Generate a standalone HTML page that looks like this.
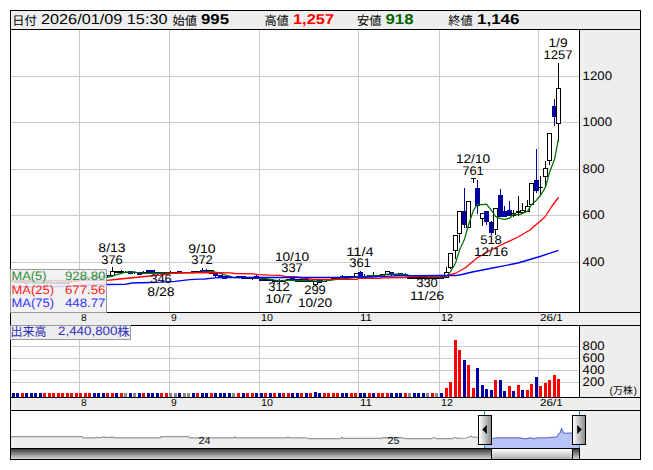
<!DOCTYPE html>
<html lang="ja"><head><meta charset="utf-8"><title>Stock chart</title>
<style>html,body{margin:0;padding:0;background:#fff}body{width:653px;height:470px;overflow:hidden;font-family:"Liberation Sans",sans-serif}svg{display:block}svg text{font-family:"Liberation Sans","Noto Sans CJK JP",sans-serif}</style></head>
<body>
<svg width="653" height="470" viewBox="0 0 653 470" font-family="'Liberation Sans', 'Noto Sans CJK JP', sans-serif" shape-rendering="crispEdges" text-rendering="geometricPrecision">
<rect x="0" y="0" width="653" height="470" fill="#fff"/>
<rect x="11" y="11" width="629" height="18" fill="#eeeeee"/>
<rect x="580" y="30" width="60" height="282" fill="#eeeeee"/>
<rect x="580" y="326" width="60" height="71" fill="#eeeeee"/>
<rect x="11" y="313" width="629" height="12" fill="#eeeeee"/>
<rect x="11" y="398" width="629" height="12" fill="#eeeeee"/>
<rect x="580" y="411" width="60" height="48" fill="#eeeeee"/>
<rect x="79" y="30" width="1" height="282" fill="#cbcbcb"/>
<rect x="79" y="326" width="1" height="71" fill="#cbcbcb"/>
<rect x="169" y="30" width="1" height="282" fill="#cbcbcb"/>
<rect x="169" y="326" width="1" height="71" fill="#cbcbcb"/>
<rect x="259" y="30" width="1" height="282" fill="#cbcbcb"/>
<rect x="259" y="326" width="1" height="71" fill="#cbcbcb"/>
<rect x="358" y="30" width="1" height="282" fill="#cbcbcb"/>
<rect x="358" y="326" width="1" height="71" fill="#cbcbcb"/>
<rect x="439" y="30" width="1" height="282" fill="#cbcbcb"/>
<rect x="439" y="326" width="1" height="71" fill="#cbcbcb"/>
<rect x="538" y="30" width="1" height="282" fill="#cbcbcb"/>
<rect x="538" y="326" width="1" height="71" fill="#cbcbcb"/>
<rect x="11" y="76" width="568" height="1" fill="#cbcbcb"/>
<rect x="11" y="122" width="568" height="1" fill="#cbcbcb"/>
<rect x="11" y="169" width="568" height="1" fill="#cbcbcb"/>
<rect x="11" y="215" width="568" height="1" fill="#cbcbcb"/>
<rect x="11" y="262" width="568" height="1" fill="#cbcbcb"/>
<rect x="11" y="346" width="568" height="1" fill="#cbcbcb"/>
<rect x="11" y="358" width="568" height="1" fill="#cbcbcb"/>
<rect x="11" y="370" width="568" height="1" fill="#cbcbcb"/>
<rect x="11" y="382" width="568" height="1" fill="#cbcbcb"/>
<g id="candles">
<rect x="13" y="279" width="1" height="4" fill="#0000a0"/>
<rect x="11" y="280" width="5" height="2" fill="#0000a0"/>
<rect x="17" y="281" width="1" height="3" fill="#0000a0"/>
<rect x="15" y="281" width="5" height="2" fill="#0000a0"/>
<rect x="20" y="281" width="5" height="2" fill="#000"/>
<rect x="26" y="281" width="1" height="3" fill="#0000a0"/>
<rect x="24" y="281" width="5" height="3" fill="#0000a0"/>
<rect x="31" y="281" width="1" height="2" fill="#0000a0"/>
<rect x="29" y="281" width="5" height="2" fill="#0000a0"/>
<rect x="35" y="281" width="1" height="3" fill="#0000a0"/>
<rect x="33" y="281" width="5" height="3" fill="#0000a0"/>
<rect x="40" y="282" width="1" height="2" fill="#0000a0"/>
<rect x="38" y="282" width="5" height="2" fill="#0000a0"/>
<rect x="42" y="282" width="5" height="2" fill="#000"/>
<rect x="47" y="281" width="5" height="3" fill="#000"/>
<rect x="48" y="282" width="3" height="1" fill="#fff"/>
<rect x="51" y="282" width="5" height="2" fill="#000"/>
<rect x="58" y="281" width="1" height="1" fill="#000"/>
<rect x="56" y="282" width="5" height="2" fill="#000"/>
<rect x="60" y="282" width="5" height="2" fill="#000"/>
<rect x="65" y="282" width="5" height="2" fill="#000"/>
<rect x="71" y="282" width="1" height="1" fill="#000"/>
<rect x="69" y="280" width="5" height="2" fill="#000"/>
<rect x="74" y="280" width="5" height="2" fill="#000"/>
<rect x="78" y="278" width="5" height="2" fill="#000"/>
<rect x="83" y="277" width="5" height="2" fill="#000"/>
<rect x="87" y="277" width="5" height="2" fill="#000"/>
<rect x="94" y="276" width="1" height="2" fill="#0000a0"/>
<rect x="92" y="276" width="5" height="2" fill="#0000a0"/>
<rect x="98" y="276" width="1" height="2" fill="#0000a0"/>
<rect x="96" y="276" width="5" height="2" fill="#0000a0"/>
<rect x="103" y="276" width="1" height="2" fill="#0000a0"/>
<rect x="101" y="276" width="5" height="2" fill="#0000a0"/>
<rect x="107" y="275" width="1" height="2" fill="#000"/>
<rect x="105" y="275" width="5" height="1" fill="#000"/>
<rect x="112" y="267" width="1" height="4" fill="#000"/>
<rect x="110" y="271" width="5" height="5" fill="#000"/>
<rect x="111" y="272" width="3" height="3" fill="#fff"/>
<rect x="114" y="271" width="5" height="2" fill="#000"/>
<rect x="121" y="270" width="1" height="1" fill="#000"/>
<rect x="119" y="271" width="5" height="2" fill="#000"/>
<rect x="125" y="271" width="1" height="2" fill="#000"/>
<rect x="123" y="272" width="5" height="1" fill="#000"/>
<rect x="130" y="271" width="1" height="3" fill="#0000a0"/>
<rect x="128" y="271" width="5" height="3" fill="#0000a0"/>
<rect x="134" y="271" width="1" height="3" fill="#000"/>
<rect x="132" y="272" width="5" height="1" fill="#000"/>
<rect x="139" y="272" width="1" height="3" fill="#0000a0"/>
<rect x="137" y="272" width="5" height="3" fill="#0000a0"/>
<rect x="143" y="271" width="1" height="1" fill="#000"/>
<rect x="141" y="272" width="5" height="2" fill="#000"/>
<rect x="148" y="270" width="1" height="4" fill="#0000a0"/>
<rect x="146" y="270" width="5" height="3" fill="#0000a0"/>
<rect x="152" y="270" width="1" height="3" fill="#0000a0"/>
<rect x="150" y="270" width="5" height="3" fill="#0000a0"/>
<rect x="157" y="272" width="1" height="3" fill="#0000a0"/>
<rect x="155" y="272" width="5" height="2" fill="#0000a0"/>
<rect x="161" y="272" width="1" height="3" fill="#0000a0"/>
<rect x="159" y="272" width="5" height="2" fill="#0000a0"/>
<rect x="166" y="274" width="1" height="1" fill="#000"/>
<rect x="164" y="272" width="5" height="2" fill="#000"/>
<rect x="170" y="271" width="1" height="2" fill="#000"/>
<rect x="168" y="272" width="5" height="1" fill="#000"/>
<rect x="175" y="272" width="1" height="1" fill="#000"/>
<rect x="173" y="272" width="5" height="1" fill="#000"/>
<rect x="179" y="271" width="1" height="2" fill="#0000a0"/>
<rect x="177" y="271" width="5" height="2" fill="#0000a0"/>
<rect x="184" y="272" width="1" height="1" fill="#000"/>
<rect x="182" y="272" width="5" height="1" fill="#000"/>
<rect x="188" y="272" width="1" height="1" fill="#000"/>
<rect x="186" y="272" width="5" height="1" fill="#000"/>
<rect x="193" y="271" width="1" height="2" fill="#0000a0"/>
<rect x="191" y="271" width="5" height="2" fill="#0000a0"/>
<rect x="195" y="271" width="5" height="2" fill="#000"/>
<rect x="202" y="268" width="1" height="5" fill="#0000a0"/>
<rect x="200" y="270" width="5" height="2" fill="#0000a0"/>
<rect x="206" y="269" width="1" height="3" fill="#0000a0"/>
<rect x="204" y="270" width="5" height="2" fill="#0000a0"/>
<rect x="209" y="270" width="5" height="4" fill="#000"/>
<rect x="210" y="271" width="3" height="2" fill="#fff"/>
<rect x="215" y="273" width="1" height="5" fill="#0000a0"/>
<rect x="213" y="273" width="5" height="3" fill="#0000a0"/>
<rect x="220" y="275" width="1" height="2" fill="#0000a0"/>
<rect x="218" y="275" width="5" height="2" fill="#0000a0"/>
<rect x="224" y="276" width="1" height="3" fill="#0000a0"/>
<rect x="222" y="276" width="5" height="3" fill="#0000a0"/>
<rect x="229" y="276" width="1" height="2" fill="#0000a0"/>
<rect x="227" y="276" width="5" height="2" fill="#0000a0"/>
<rect x="233" y="277" width="1" height="1" fill="#000"/>
<rect x="231" y="277" width="5" height="1" fill="#000"/>
<rect x="236" y="276" width="5" height="2" fill="#000"/>
<rect x="243" y="276" width="1" height="3" fill="#0000a0"/>
<rect x="241" y="276" width="5" height="3" fill="#0000a0"/>
<rect x="245" y="277" width="5" height="2" fill="#000"/>
<rect x="252" y="279" width="1" height="1" fill="#000"/>
<rect x="250" y="277" width="5" height="2" fill="#000"/>
<rect x="256" y="275" width="1" height="4" fill="#0000a0"/>
<rect x="254" y="276" width="5" height="3" fill="#0000a0"/>
<rect x="261" y="279" width="1" height="2" fill="#0000a0"/>
<rect x="259" y="279" width="5" height="2" fill="#0000a0"/>
<rect x="263" y="279" width="5" height="2" fill="#000"/>
<rect x="270" y="279" width="1" height="2" fill="#0000a0"/>
<rect x="268" y="279" width="5" height="2" fill="#0000a0"/>
<rect x="274" y="282" width="1" height="1" fill="#000"/>
<rect x="272" y="280" width="5" height="2" fill="#000"/>
<rect x="279" y="279" width="1" height="4" fill="#0000a0"/>
<rect x="277" y="280" width="5" height="2" fill="#0000a0"/>
<rect x="281" y="280" width="5" height="2" fill="#000"/>
<rect x="286" y="279" width="5" height="2" fill="#000"/>
<rect x="292" y="276" width="1" height="5" fill="#0000a0"/>
<rect x="290" y="278" width="5" height="3" fill="#0000a0"/>
<rect x="297" y="279" width="1" height="3" fill="#0000a0"/>
<rect x="295" y="279" width="5" height="3" fill="#0000a0"/>
<rect x="301" y="278" width="1" height="1" fill="#000"/>
<rect x="299" y="279" width="5" height="3" fill="#000"/>
<rect x="300" y="280" width="3" height="1" fill="#fff"/>
<rect x="306" y="279" width="1" height="3" fill="#0000a0"/>
<rect x="304" y="279" width="5" height="3" fill="#0000a0"/>
<rect x="310" y="279" width="1" height="1" fill="#000"/>
<rect x="308" y="280" width="5" height="2" fill="#000"/>
<rect x="315" y="285" width="1" height="1" fill="#000"/>
<rect x="313" y="281" width="5" height="4" fill="#000"/>
<rect x="314" y="282" width="3" height="2" fill="#fff"/>
<rect x="319" y="280" width="1" height="3" fill="#0000a0"/>
<rect x="317" y="280" width="5" height="3" fill="#0000a0"/>
<rect x="322" y="279" width="5" height="3" fill="#000"/>
<rect x="323" y="280" width="3" height="1" fill="#fff"/>
<rect x="326" y="279" width="5" height="2" fill="#000"/>
<rect x="331" y="278" width="5" height="2" fill="#000"/>
<rect x="335" y="277" width="5" height="2" fill="#000"/>
<rect x="342" y="275" width="1" height="4" fill="#0000a0"/>
<rect x="340" y="276" width="5" height="3" fill="#0000a0"/>
<rect x="346" y="276" width="1" height="3" fill="#0000a0"/>
<rect x="344" y="276" width="5" height="3" fill="#0000a0"/>
<rect x="349" y="276" width="5" height="2" fill="#000"/>
<rect x="354" y="273" width="5" height="4" fill="#000"/>
<rect x="355" y="274" width="3" height="2" fill="#fff"/>
<rect x="360" y="271" width="1" height="6" fill="#0000a0"/>
<rect x="358" y="272" width="5" height="5" fill="#0000a0"/>
<rect x="364" y="274" width="1" height="4" fill="#0000a0"/>
<rect x="362" y="276" width="5" height="2" fill="#0000a0"/>
<rect x="367" y="275" width="5" height="2" fill="#000"/>
<rect x="373" y="272" width="1" height="3" fill="#000"/>
<rect x="371" y="275" width="5" height="2" fill="#000"/>
<rect x="376" y="275" width="5" height="2" fill="#000"/>
<rect x="382" y="277" width="1" height="1" fill="#000"/>
<rect x="380" y="274" width="5" height="3" fill="#000"/>
<rect x="381" y="275" width="3" height="1" fill="#fff"/>
<rect x="385" y="271" width="5" height="4" fill="#000"/>
<rect x="386" y="272" width="3" height="2" fill="#fff"/>
<rect x="391" y="272" width="1" height="4" fill="#0000a0"/>
<rect x="389" y="272" width="5" height="3" fill="#0000a0"/>
<rect x="396" y="274" width="1" height="2" fill="#0000a0"/>
<rect x="394" y="274" width="5" height="2" fill="#0000a0"/>
<rect x="400" y="273" width="1" height="3" fill="#0000a0"/>
<rect x="398" y="273" width="5" height="3" fill="#0000a0"/>
<rect x="405" y="273" width="1" height="1" fill="#000"/>
<rect x="403" y="274" width="5" height="2" fill="#000"/>
<rect x="407" y="277" width="5" height="2" fill="#000"/>
<rect x="412" y="277" width="5" height="2" fill="#000"/>
<rect x="416" y="277" width="5" height="2" fill="#000"/>
<rect x="421" y="277" width="5" height="2" fill="#000"/>
<rect x="425" y="277" width="5" height="2" fill="#000"/>
<rect x="430" y="277" width="5" height="2" fill="#000"/>
<rect x="434" y="277" width="5" height="2" fill="#000"/>
<rect x="441" y="276" width="1" height="3" fill="#0000a0"/>
<rect x="439" y="277" width="5" height="2" fill="#0000a0"/>
<rect x="446" y="267" width="1" height="5" fill="#000"/>
<rect x="444" y="272" width="5" height="6" fill="#000"/>
<rect x="445" y="273" width="3" height="4" fill="#fff"/>
<rect x="450" y="268" width="1" height="1" fill="#000"/>
<rect x="448" y="253" width="5" height="15" fill="#000"/>
<rect x="449" y="254" width="3" height="13" fill="#fff"/>
<rect x="455" y="251" width="1" height="8" fill="#000"/>
<rect x="453" y="235" width="5" height="16" fill="#000"/>
<rect x="454" y="236" width="3" height="14" fill="#fff"/>
<rect x="459" y="234" width="1" height="9" fill="#000"/>
<rect x="457" y="211" width="5" height="23" fill="#000"/>
<rect x="458" y="212" width="3" height="21" fill="#fff"/>
<rect x="464" y="188" width="1" height="40" fill="#0000a0"/>
<rect x="462" y="211" width="5" height="14" fill="#0000a0"/>
<rect x="466" y="201" width="5" height="27" fill="#000"/>
<rect x="467" y="202" width="3" height="25" fill="#fff"/>
<rect x="473" y="178" width="1" height="5" fill="#000"/>
<rect x="471" y="178" width="5" height="1" fill="#000"/>
<rect x="477" y="180" width="1" height="34" fill="#0000a0"/>
<rect x="475" y="188" width="5" height="18" fill="#0000a0"/>
<rect x="482" y="219" width="1" height="7" fill="#000"/>
<rect x="480" y="213" width="5" height="6" fill="#000"/>
<rect x="481" y="214" width="3" height="4" fill="#fff"/>
<rect x="486" y="211" width="1" height="14" fill="#0000a0"/>
<rect x="484" y="211" width="5" height="11" fill="#0000a0"/>
<rect x="491" y="221" width="1" height="14" fill="#0000a0"/>
<rect x="489" y="222" width="5" height="11" fill="#0000a0"/>
<rect x="495" y="230" width="1" height="5" fill="#000"/>
<rect x="493" y="208" width="5" height="22" fill="#000"/>
<rect x="494" y="209" width="3" height="20" fill="#fff"/>
<rect x="500" y="189" width="1" height="28" fill="#0000a0"/>
<rect x="498" y="195" width="5" height="22" fill="#0000a0"/>
<rect x="504" y="206" width="1" height="11" fill="#0000a0"/>
<rect x="502" y="211" width="5" height="6" fill="#0000a0"/>
<rect x="509" y="201" width="1" height="15" fill="#0000a0"/>
<rect x="507" y="210" width="5" height="6" fill="#0000a0"/>
<rect x="513" y="210" width="1" height="3" fill="#000"/>
<rect x="513" y="216" width="1" height="1" fill="#000"/>
<rect x="511" y="213" width="5" height="3" fill="#000"/>
<rect x="512" y="214" width="3" height="1" fill="#fff"/>
<rect x="518" y="196" width="1" height="15" fill="#000"/>
<rect x="518" y="213" width="1" height="3" fill="#000"/>
<rect x="516" y="211" width="5" height="2" fill="#000"/>
<rect x="522" y="203" width="1" height="7" fill="#000"/>
<rect x="520" y="210" width="5" height="3" fill="#000"/>
<rect x="521" y="211" width="3" height="1" fill="#fff"/>
<rect x="527" y="200" width="1" height="6" fill="#000"/>
<rect x="525" y="206" width="5" height="6" fill="#000"/>
<rect x="526" y="207" width="3" height="4" fill="#fff"/>
<rect x="529" y="183" width="5" height="22" fill="#000"/>
<rect x="530" y="184" width="3" height="20" fill="#fff"/>
<rect x="536" y="149" width="1" height="44" fill="#0000a0"/>
<rect x="534" y="180" width="5" height="11" fill="#0000a0"/>
<rect x="540" y="176" width="1" height="19" fill="#000"/>
<rect x="538" y="187" width="5" height="1" fill="#000"/>
<rect x="545" y="161" width="1" height="7" fill="#000"/>
<rect x="545" y="177" width="1" height="9" fill="#000"/>
<rect x="543" y="168" width="5" height="9" fill="#000"/>
<rect x="544" y="169" width="3" height="7" fill="#fff"/>
<rect x="549" y="161" width="1" height="4" fill="#000"/>
<rect x="547" y="133" width="5" height="28" fill="#000"/>
<rect x="548" y="134" width="3" height="26" fill="#fff"/>
<rect x="554" y="99" width="1" height="27" fill="#0000a0"/>
<rect x="552" y="106" width="5" height="11" fill="#0000a0"/>
<rect x="558" y="63" width="1" height="25" fill="#000"/>
<rect x="558" y="124" width="1" height="18" fill="#000"/>
<rect x="556" y="88" width="5" height="36" fill="#000"/>
<rect x="557" y="89" width="3" height="34" fill="#fff"/>
</g>
<polyline points="13.5,282.0 17.5,282.5 22.5,282.0 26.5,282.5 31.5,282.6 35.5,283.0 40.5,283.2 44.5,283.4 49.5,282.8 53.5,282.6 58.5,282.2 62.5,281.8 67.5,281.8 71.5,281.6 76.5,281.2 80.5,280.4 85.5,279.4 89.5,278.4 94.5,278.0 98.5,277.6 103.5,277.6 107.5,277.3 112.5,276.1 116.5,274.7 121.5,273.3 125.5,272.2 130.5,271.9 134.5,272.2 139.5,273.0 143.5,273.2 148.5,273.3 152.5,273.1 157.5,273.4 161.5,273.2 166.5,273.2 170.5,273.1 175.5,273.0 179.5,272.8 184.5,272.5 188.5,272.6 193.5,272.7 197.5,272.4 202.5,272.2 206.5,272.1 211.5,271.6 215.5,272.2 220.5,273.4 224.5,274.8 229.5,276.0 233.5,277.5 238.5,277.5 243.5,277.9 247.5,277.5 252.5,277.3 256.5,277.6 261.5,278.6 265.5,278.6 270.5,279.4 274.5,280.0 279.5,280.6 283.5,280.4 288.5,280.4 292.5,280.4 297.5,280.8 301.5,280.2 306.5,280.6 310.5,280.8 315.5,280.8 319.5,281.0 324.5,281.0 328.5,280.4 333.5,280.0 337.5,279.2 342.5,278.4 346.5,278.4 351.5,277.8 356.5,276.8 360.5,276.8 364.5,276.6 369.5,275.8 373.5,275.6 378.5,276.0 382.5,275.4 387.5,274.0 391.5,274.0 396.5,274.2 400.5,274.4 405.5,274.4 409.5,275.6 414.5,276.0 418.5,276.2 423.5,276.4 427.5,277.0 432.5,277.0 436.5,277.0 441.5,277.4 446.5,276.4 450.5,271.6 455.5,263.2 459.5,250.0 464.5,239.2 468.5,225.0 473.5,210.1 477.5,204.3 482.5,204.7 486.5,204.1 491.5,210.5 495.5,216.4 500.5,218.6 504.5,219.4 509.5,218.2 513.5,214.2 518.5,214.8 522.5,213.4 527.5,211.2 531.5,204.6 536.5,200.2 540.5,195.5 545.5,187.1 549.5,172.5 554.5,159.3 558.5,138.7" fill="none" stroke="#007000" stroke-width="1.25" stroke-linejoin="round" shape-rendering="geometricPrecision"/>
<polyline points="12.0,280.6 60.0,280.5 107.0,280.3 120.0,279.0 135.0,277.5 150.0,276.0 160.0,275.0 170.0,273.5 180.0,273.0 205.0,272.5 230.0,272.8 235.0,273.5 253.0,273.8 258.0,274.6 270.0,275.2 280.0,275.4 285.0,276.3 295.0,276.7 300.0,277.5 313.0,279.3 357.0,279.3 358.5,278.4 380.0,278.4 382.0,277.8 405.0,277.5 408.0,276.8 441.0,276.7 447.0,275.5 455.0,273.5 465.0,268.0 477.0,258.0 490.0,250.5 500.0,245.5 518.0,237.0 530.0,230.0 538.0,223.0 545.0,217.0 552.0,206.0 558.5,197.5" fill="none" stroke="#ff0000" stroke-width="1.3" stroke-linejoin="round" shape-rendering="geometricPrecision"/>
<polyline points="12.0,287.0 60.0,286.5 107.0,284.5 125.0,284.3 132.0,283.0 150.0,282.5 160.0,282.2 175.0,281.3 190.0,279.6 200.0,279.2 205.0,279.0 210.0,278.3 216.0,277.8 222.0,277.5 300.0,277.5 340.0,277.3 370.0,277.0 385.0,276.3 396.0,275.9 441.0,275.5 455.0,275.6 462.0,274.5 470.0,272.5 490.0,268.5 518.0,263.0 540.0,256.5 558.5,250.3" fill="none" stroke="#0000ff" stroke-width="1.35" stroke-linejoin="round" shape-rendering="geometricPrecision"/>
<text x="112" y="251.9" font-size="12.5" fill="#000" text-anchor="middle" textLength="27.3" lengthAdjust="spacingAndGlyphs">8/13</text>
<text x="112" y="263.8" font-size="12.5" fill="#000" text-anchor="middle" textLength="21.6" lengthAdjust="spacingAndGlyphs">376</text>
<text x="161" y="295.5" font-size="12.5" fill="#000" text-anchor="middle" textLength="27.3" lengthAdjust="spacingAndGlyphs">8/28</text>
<text x="161" y="283.3" font-size="12.5" fill="#000" text-anchor="middle" textLength="21.6" lengthAdjust="spacingAndGlyphs">346</text>
<text x="202" y="252.6" font-size="12.5" fill="#000" text-anchor="middle" textLength="27.3" lengthAdjust="spacingAndGlyphs">9/10</text>
<text x="202" y="264.4" font-size="12.5" fill="#000" text-anchor="middle" textLength="21.6" lengthAdjust="spacingAndGlyphs">372</text>
<text x="279" y="303.1" font-size="12.5" fill="#000" text-anchor="middle" textLength="27.3" lengthAdjust="spacingAndGlyphs">10/7</text>
<text x="279" y="291.0" font-size="12.5" fill="#000" text-anchor="middle" textLength="21.6" lengthAdjust="spacingAndGlyphs">312</text>
<text x="292" y="260.5" font-size="12.5" fill="#000" text-anchor="middle" textLength="34.2" lengthAdjust="spacingAndGlyphs">10/10</text>
<text x="292" y="272.4" font-size="12.5" fill="#000" text-anchor="middle" textLength="21.6" lengthAdjust="spacingAndGlyphs">337</text>
<text x="315" y="306.5" font-size="12.5" fill="#000" text-anchor="middle" textLength="34.2" lengthAdjust="spacingAndGlyphs">10/20</text>
<text x="315" y="294.4" font-size="12.5" fill="#000" text-anchor="middle" textLength="21.6" lengthAdjust="spacingAndGlyphs">299</text>
<text x="360" y="255.5" font-size="12.5" fill="#000" text-anchor="middle" textLength="27.3" lengthAdjust="spacingAndGlyphs">11/4</text>
<text x="360" y="267.4" font-size="12.5" fill="#000" text-anchor="middle" textLength="21.6" lengthAdjust="spacingAndGlyphs">361</text>
<text x="427" y="299.8" font-size="12.5" fill="#000" text-anchor="middle" textLength="34.2" lengthAdjust="spacingAndGlyphs">11/26</text>
<text x="427" y="287.0" font-size="12.5" fill="#000" text-anchor="middle" textLength="21.6" lengthAdjust="spacingAndGlyphs">330</text>
<text x="473" y="163.0" font-size="12.5" fill="#000" text-anchor="middle" textLength="34.2" lengthAdjust="spacingAndGlyphs">12/10</text>
<text x="473" y="174.8" font-size="12.5" fill="#000" text-anchor="middle" textLength="21.6" lengthAdjust="spacingAndGlyphs">761</text>
<text x="491" y="255.6" font-size="12.5" fill="#000" text-anchor="middle" textLength="34.2" lengthAdjust="spacingAndGlyphs">12/16</text>
<text x="491" y="243.7" font-size="12.5" fill="#000" text-anchor="middle" textLength="21.6" lengthAdjust="spacingAndGlyphs">518</text>
<text x="558" y="46.9" font-size="12.5" fill="#000" text-anchor="middle" textLength="19.0" lengthAdjust="spacingAndGlyphs">1/9</text>
<text x="558" y="58.9" font-size="12.5" fill="#000" text-anchor="middle" textLength="29.2" lengthAdjust="spacingAndGlyphs">1257</text>
<g id="vol">
<rect x="12" y="393" width="3" height="4" fill="#0000a0"/>
<rect x="16" y="393" width="3" height="4" fill="#0000a0"/>
<rect x="21" y="393" width="3" height="4" fill="#ff0000"/>
<rect x="25" y="393" width="3" height="4" fill="#0000a0"/>
<rect x="30" y="393" width="3" height="4" fill="#0000a0"/>
<rect x="34" y="393" width="3" height="4" fill="#0000a0"/>
<rect x="39" y="393" width="3" height="4" fill="#0000a0"/>
<rect x="43" y="393" width="3" height="4" fill="#ff0000"/>
<rect x="48" y="393" width="3" height="4" fill="#ff0000"/>
<rect x="52" y="393" width="3" height="4" fill="#ff0000"/>
<rect x="57" y="393" width="3" height="4" fill="#ff0000"/>
<rect x="61" y="393" width="3" height="4" fill="#ff0000"/>
<rect x="66" y="393" width="3" height="4" fill="#ff0000"/>
<rect x="70" y="393" width="3" height="4" fill="#ff0000"/>
<rect x="75" y="393" width="3" height="4" fill="#ff0000"/>
<rect x="79" y="393" width="3" height="4" fill="#ff0000"/>
<rect x="84" y="393" width="3" height="4" fill="#ff0000"/>
<rect x="88" y="393" width="3" height="4" fill="#ff0000"/>
<rect x="93" y="393" width="3" height="4" fill="#0000a0"/>
<rect x="97" y="393" width="3" height="4" fill="#0000a0"/>
<rect x="102" y="393" width="3" height="4" fill="#0000a0"/>
<rect x="106" y="393" width="3" height="4" fill="#ff0000"/>
<rect x="111" y="393" width="3" height="4" fill="#ff0000"/>
<rect x="115" y="393" width="3" height="4" fill="#0000a0"/>
<rect x="120" y="393" width="3" height="4" fill="#ff0000"/>
<rect x="124" y="393" width="3" height="4" fill="#888888"/>
<rect x="129" y="393" width="3" height="4" fill="#0000a0"/>
<rect x="133" y="393" width="3" height="4" fill="#888888"/>
<rect x="138" y="393" width="3" height="4" fill="#0000a0"/>
<rect x="142" y="393" width="3" height="4" fill="#ff0000"/>
<rect x="147" y="393" width="3" height="4" fill="#0000a0"/>
<rect x="151" y="393" width="3" height="4" fill="#0000a0"/>
<rect x="156" y="393" width="3" height="4" fill="#0000a0"/>
<rect x="160" y="393" width="3" height="4" fill="#ff0000"/>
<rect x="165" y="393" width="3" height="4" fill="#ff0000"/>
<rect x="169" y="393" width="3" height="4" fill="#888888"/>
<rect x="174" y="393" width="3" height="4" fill="#888888"/>
<rect x="178" y="393" width="3" height="4" fill="#0000a0"/>
<rect x="183" y="393" width="3" height="4" fill="#888888"/>
<rect x="187" y="393" width="3" height="4" fill="#888888"/>
<rect x="192" y="393" width="3" height="4" fill="#0000a0"/>
<rect x="196" y="393" width="3" height="4" fill="#ff0000"/>
<rect x="201" y="393" width="3" height="4" fill="#0000a0"/>
<rect x="205" y="393" width="3" height="4" fill="#0000a0"/>
<rect x="210" y="393" width="3" height="4" fill="#ff0000"/>
<rect x="214" y="393" width="3" height="4" fill="#0000a0"/>
<rect x="219" y="393" width="3" height="4" fill="#0000a0"/>
<rect x="223" y="393" width="3" height="4" fill="#0000a0"/>
<rect x="228" y="393" width="3" height="4" fill="#0000a0"/>
<rect x="232" y="393" width="3" height="4" fill="#888888"/>
<rect x="237" y="393" width="3" height="4" fill="#ff0000"/>
<rect x="242" y="393" width="3" height="4" fill="#0000a0"/>
<rect x="246" y="393" width="3" height="4" fill="#ff0000"/>
<rect x="251" y="393" width="3" height="4" fill="#ff0000"/>
<rect x="255" y="393" width="3" height="4" fill="#0000a0"/>
<rect x="260" y="393" width="3" height="4" fill="#0000a0"/>
<rect x="264" y="393" width="3" height="4" fill="#ff0000"/>
<rect x="269" y="393" width="3" height="4" fill="#0000a0"/>
<rect x="273" y="393" width="3" height="4" fill="#ff0000"/>
<rect x="278" y="393" width="3" height="4" fill="#0000a0"/>
<rect x="282" y="393" width="3" height="4" fill="#ff0000"/>
<rect x="287" y="393" width="3" height="4" fill="#ff0000"/>
<rect x="291" y="393" width="3" height="4" fill="#0000a0"/>
<rect x="296" y="393" width="3" height="4" fill="#0000a0"/>
<rect x="300" y="393" width="3" height="4" fill="#ff0000"/>
<rect x="305" y="393" width="3" height="4" fill="#0000a0"/>
<rect x="309" y="393" width="3" height="4" fill="#ff0000"/>
<rect x="314" y="392" width="3" height="5" fill="#0000a0"/>
<rect x="318" y="393" width="3" height="4" fill="#0000a0"/>
<rect x="323" y="393" width="3" height="4" fill="#ff0000"/>
<rect x="327" y="393" width="3" height="4" fill="#ff0000"/>
<rect x="332" y="393" width="3" height="4" fill="#ff0000"/>
<rect x="336" y="393" width="3" height="4" fill="#ff0000"/>
<rect x="341" y="393" width="3" height="4" fill="#0000a0"/>
<rect x="345" y="393" width="3" height="4" fill="#0000a0"/>
<rect x="350" y="393" width="3" height="4" fill="#ff0000"/>
<rect x="354" y="393" width="3" height="4" fill="#ff0000"/>
<rect x="359" y="393" width="3" height="4" fill="#0000a0"/>
<rect x="363" y="393" width="3" height="4" fill="#0000a0"/>
<rect x="368" y="393" width="3" height="4" fill="#ff0000"/>
<rect x="372" y="393" width="3" height="4" fill="#0000a0"/>
<rect x="377" y="393" width="3" height="4" fill="#ff0000"/>
<rect x="381" y="393" width="3" height="4" fill="#ff0000"/>
<rect x="386" y="393" width="3" height="4" fill="#ff0000"/>
<rect x="390" y="393" width="3" height="4" fill="#0000a0"/>
<rect x="395" y="393" width="3" height="4" fill="#0000a0"/>
<rect x="399" y="393" width="3" height="4" fill="#0000a0"/>
<rect x="404" y="393" width="3" height="4" fill="#ff0000"/>
<rect x="408" y="393" width="3" height="4" fill="#888888"/>
<rect x="413" y="393" width="3" height="4" fill="#0000a0"/>
<rect x="417" y="393" width="3" height="4" fill="#0000a0"/>
<rect x="422" y="393" width="3" height="4" fill="#0000a0"/>
<rect x="426" y="393" width="3" height="4" fill="#888888"/>
<rect x="431" y="393" width="3" height="4" fill="#ff0000"/>
<rect x="435" y="393" width="3" height="4" fill="#888888"/>
<rect x="440" y="393" width="3" height="4" fill="#0000a0"/>
<rect x="445" y="388" width="3" height="9" fill="#ff0000"/>
<rect x="449" y="382" width="3" height="15" fill="#ff0000"/>
<rect x="454" y="340" width="3" height="57" fill="#ff0000"/>
<rect x="458" y="350" width="3" height="47" fill="#ff0000"/>
<rect x="463" y="360" width="3" height="37" fill="#0000a0"/>
<rect x="467" y="365" width="3" height="32" fill="#ff0000"/>
<rect x="472" y="388" width="3" height="9" fill="#ff0000"/>
<rect x="476" y="368" width="3" height="29" fill="#0000a0"/>
<rect x="481" y="385" width="3" height="12" fill="#0000a0"/>
<rect x="485" y="389" width="3" height="8" fill="#0000a0"/>
<rect x="490" y="390" width="3" height="7" fill="#0000a0"/>
<rect x="494" y="380" width="3" height="17" fill="#ff0000"/>
<rect x="499" y="380" width="3" height="17" fill="#0000a0"/>
<rect x="503" y="391" width="3" height="6" fill="#0000a0"/>
<rect x="508" y="386" width="3" height="11" fill="#ff0000"/>
<rect x="512" y="391" width="3" height="6" fill="#0000a0"/>
<rect x="517" y="385" width="3" height="12" fill="#ff0000"/>
<rect x="521" y="390" width="3" height="7" fill="#0000a0"/>
<rect x="526" y="390" width="3" height="7" fill="#ff0000"/>
<rect x="530" y="384" width="3" height="13" fill="#ff0000"/>
<rect x="535" y="377" width="3" height="20" fill="#0000a0"/>
<rect x="539" y="386" width="3" height="11" fill="#ff0000"/>
<rect x="544" y="383" width="3" height="14" fill="#ff0000"/>
<rect x="548" y="380" width="3" height="17" fill="#ff0000"/>
<rect x="553" y="375" width="3" height="22" fill="#ff0000"/>
<rect x="557" y="379" width="3" height="18" fill="#ff0000"/>
</g>
<rect x="10" y="10" width="631" height="1" fill="#000"/>
<rect x="10" y="459" width="631" height="1" fill="#000"/>
<rect x="10" y="10" width="1" height="450" fill="#000"/>
<rect x="640" y="10" width="1" height="450" fill="#000"/>
<rect x="10" y="29" width="631" height="1" fill="#000"/>
<rect x="10" y="312" width="631" height="1" fill="#000"/>
<rect x="10" y="325" width="631" height="1" fill="#000"/>
<rect x="10" y="397" width="631" height="1" fill="#000"/>
<rect x="10" y="410" width="631" height="1" fill="#000"/>
<rect x="579" y="30" width="1" height="282" fill="#000"/>
<rect x="579" y="326" width="1" height="71" fill="#000"/>
<text x="582.6" y="80.3" font-size="12.5" fill="#000" textLength="29.4" lengthAdjust="spacingAndGlyphs">1200</text>
<text x="582.6" y="126.3" font-size="12.5" fill="#000" textLength="29.4" lengthAdjust="spacingAndGlyphs">1000</text>
<text x="582.6" y="173.3" font-size="12.5" fill="#000" textLength="21.9" lengthAdjust="spacingAndGlyphs">800</text>
<text x="582.6" y="219.3" font-size="12.5" fill="#000" textLength="21.9" lengthAdjust="spacingAndGlyphs">600</text>
<text x="582.6" y="266.3" font-size="12.5" fill="#000" textLength="21.9" lengthAdjust="spacingAndGlyphs">400</text>
<text x="582.6" y="350.3" font-size="12.5" fill="#000" textLength="21.9" lengthAdjust="spacingAndGlyphs">800</text>
<text x="582.6" y="362.3" font-size="12.5" fill="#000" textLength="21.9" lengthAdjust="spacingAndGlyphs">600</text>
<text x="582.6" y="374.3" font-size="12.5" fill="#000" textLength="21.9" lengthAdjust="spacingAndGlyphs">400</text>
<text x="582.6" y="386.3" font-size="12.5" fill="#000" textLength="21.9" lengthAdjust="spacingAndGlyphs">200</text>
<text x="609.5" y="394" font-size="10.5" fill="#000">(</text>
<text x="613" y="394.1" font-size="10" fill="#000" textLength="20" lengthAdjust="spacingAndGlyphs">万株</text>
<text x="633.5" y="394" font-size="10.5" fill="#000">)</text>
<text x="81" y="320.6" font-size="10.2" fill="#000">8</text>
<text x="171" y="320.6" font-size="10.2" fill="#000">9</text>
<text x="261" y="320.6" font-size="10.2" fill="#000" textLength="11.9" lengthAdjust="spacingAndGlyphs">10</text>
<text x="360" y="320.6" font-size="10.2" fill="#000" textLength="11.9" lengthAdjust="spacingAndGlyphs">11</text>
<text x="441" y="320.6" font-size="10.2" fill="#000" textLength="11.9" lengthAdjust="spacingAndGlyphs">12</text>
<text x="540" y="320.6" font-size="10.2" fill="#000" textLength="22.8" lengthAdjust="spacingAndGlyphs">26/1</text>
<text x="81" y="405.6" font-size="10.2" fill="#000">8</text>
<text x="171" y="405.6" font-size="10.2" fill="#000">9</text>
<text x="261" y="405.6" font-size="10.2" fill="#000" textLength="11.9" lengthAdjust="spacingAndGlyphs">10</text>
<text x="360" y="405.6" font-size="10.2" fill="#000" textLength="11.9" lengthAdjust="spacingAndGlyphs">11</text>
<text x="441" y="405.6" font-size="10.2" fill="#000" textLength="11.9" lengthAdjust="spacingAndGlyphs">12</text>
<text x="540" y="405.6" font-size="10.2" fill="#000" textLength="22.8" lengthAdjust="spacingAndGlyphs">26/1</text>
<path d="M11,448 L11,436.5 L82,436.5 L83,437.8 L96,437.8 L97,437.2 L99,437.8 L104,436.8 L106,437.6 L112,437.2 L116,437.8 L118,437.8 L160,437.8 L161,436.6 L188,436.6 L190,437.8 L234,437.8 L235,436.8 L236,437.8 L287,437.8 L288,437 L289,437.8 L306,437.8 L308,438.5 L341,438.5 L342,437.2 L343,438.3 L380,438.3 L384,437.6 L403,437.8 L405,438.5 L432,438.5 L434,437.5 L436,438.5 L452,438.5 L455,437.5 L458,438.3 L466,438 L469,437 L471,436.3 L473,437.3 L476,437 L478,437.5 L485,437.5 L485,448 Z" fill="#eeeeee" shape-rendering="geometricPrecision"/>
<path d="M485,448 L485,437.5 L487,438.5 L492,438.5 L497,437.8 L520,437.8 L523,438.6 L527,438.6 L530,437.8 L534,438.6 L538,437.8 L548,437.6 L556,437.2 L557.5,436.4 L558.5,433.8 L560,433.2 L561.5,428.4 L563,432 L565,433.5 L568,433 L572,433.2 L579,433.2 L579,448 Z" fill="#b9c3f5" shape-rendering="geometricPrecision"/>
<polyline points="11.0,436.5 82.0,436.5 83.0,437.8 96.0,437.8 97.0,437.2 99.0,437.8 104.0,436.8 106.0,437.6 112.0,437.2 116.0,437.8 118.0,437.8 160.0,437.8 161.0,436.6 188.0,436.6 190.0,437.8 234.0,437.8 235.0,436.8 236.0,437.8 287.0,437.8 288.0,437.0 289.0,437.8 306.0,437.8 308.0,438.5 341.0,438.5 342.0,437.2 343.0,438.3 380.0,438.3 384.0,437.6 403.0,437.8 405.0,438.5 432.0,438.5 434.0,437.5 436.0,438.5 452.0,438.5 455.0,437.5 458.0,438.3 466.0,438.0 469.0,437.0 471.0,436.3 473.0,437.3 476.0,437.0 478.0,437.5 485.0,437.5" fill="none" stroke="#989898" stroke-width="1.25" stroke-linejoin="round" shape-rendering="geometricPrecision"/>
<polyline points="485.0,437.5 487.0,438.5 492.0,438.5 497.0,437.8 520.0,437.8 523.0,438.6 527.0,438.6 530.0,437.8 534.0,438.6 538.0,437.8 548.0,437.6 556.0,437.2 557.5,436.4 558.5,433.8 560.0,433.2 561.5,428.4 563.0,432.0 565.0,433.5 568.0,433.0 572.0,433.2 579.0,433.2" fill="none" stroke="#6e74cf" stroke-width="1.2" stroke-linejoin="round" shape-rendering="geometricPrecision"/>
<text x="198.6" y="444.0" font-size="10.3" fill="#111" textLength="12.0" lengthAdjust="spacingAndGlyphs">24</text>
<text x="387.6" y="444.0" font-size="10.3" fill="#111" textLength="12.0" lengthAdjust="spacingAndGlyphs">25</text>
<defs><linearGradient id="trk" x1="0" y1="0" x2="0" y2="1"><stop offset="0" stop-color="#3a3a3a"/><stop offset="1" stop-color="#d8d8d8"/></linearGradient><linearGradient id="thb" x1="0" y1="0" x2="0" y2="1"><stop offset="0" stop-color="#ffffff"/><stop offset="1" stop-color="#b0b0b0"/></linearGradient><linearGradient id="hdl" x1="0" y1="0" x2="1" y2="0"><stop offset="0" stop-color="#ffffff"/><stop offset="1" stop-color="#8c8c8c"/></linearGradient></defs>
<rect x="10" y="448" width="570" height="1" fill="#000"/>
<rect x="11" y="449" width="568" height="10" fill="url(#trk)"/>
<rect x="492" y="449" width="80" height="10" fill="url(#thb)"/>
<rect x="491" y="449" width="1" height="10" fill="#000"/>
<rect x="572" y="449" width="1" height="10" fill="#000"/>
<rect x="579" y="449" width="1" height="10" fill="#000"/>
<rect x="484" y="411" width="1" height="37" fill="#0a9bd8"/>
<rect x="579" y="411" width="1" height="37" fill="#0a9bd8"/>
<rect x="478" y="415" width="14" height="30" fill="#000"/>
<rect x="479" y="416" width="12" height="28" fill="url(#hdl)"/>
<path d="M482.2,429.5 L486.8,425 L486.8,434 Z" fill="#000" shape-rendering="geometricPrecision"/>
<rect x="572" y="415" width="14" height="30" fill="#000"/>
<rect x="573" y="416" width="12" height="28" fill="url(#hdl)"/>
<path d="M581.8,429.5 L577.2,425 L577.2,434 Z" fill="#000" shape-rendering="geometricPrecision"/>
<rect x="10" y="269" width="97" height="44" fill="#f0f0f0" fill-opacity="0.85"/>
<rect x="10" y="269" width="97" height="1" fill="#999"/>
<rect x="10" y="312" width="97" height="1" fill="#999"/>
<rect x="10" y="269" width="1" height="44" fill="#999"/>
<rect x="106" y="269" width="1" height="44" fill="#999"/>
<text x="11.5" y="280" font-size="12.3" fill="#2e8b3e" textLength="35" lengthAdjust="spacingAndGlyphs">MA(5)</text>
<text x="105.5" y="280" font-size="12.3" fill="#2e8b3e" text-anchor="end" textLength="40.5" lengthAdjust="spacingAndGlyphs">928.80</text>
<text x="11.5" y="293.6" font-size="12.3" fill="#ff2020" textLength="42.5" lengthAdjust="spacingAndGlyphs">MA(25)</text>
<text x="105.5" y="293.6" font-size="12.3" fill="#ff2020" text-anchor="end" textLength="40.5" lengthAdjust="spacingAndGlyphs">677.56</text>
<text x="11.5" y="307.2" font-size="12.3" fill="#3535ff" textLength="42.5" lengthAdjust="spacingAndGlyphs">MA(75)</text>
<text x="105.5" y="307.2" font-size="12.3" fill="#3535ff" text-anchor="end" textLength="40.5" lengthAdjust="spacingAndGlyphs">448.77</text>
<rect x="10" y="325" width="121" height="15" fill="#999999"/>
<rect x="11" y="326" width="119" height="13" fill="#ededf1"/>
<text x="10.6" y="335.7" font-size="12.4" fill="#3030b8" textLength="36" lengthAdjust="spacingAndGlyphs">出来高</text>
<text x="58" y="335.2" font-size="12.3" fill="#3030b8" textLength="59.5" lengthAdjust="spacingAndGlyphs">2,440,800</text>
<text x="117.2" y="335.7" font-size="12.4" fill="#3030b8">株</text>
<text x="12.3" y="24.7" font-size="12.4" fill="#000" textLength="24.4" lengthAdjust="spacingAndGlyphs">日付</text>
<text x="41" y="24" font-size="14.3" fill="#000" textLength="126.5" lengthAdjust="spacingAndGlyphs">2026/01/09 15:30</text>
<text x="172.6" y="24.7" font-size="12.4" fill="#000" textLength="24.4" lengthAdjust="spacingAndGlyphs">始値</text>
<text x="201" y="24" font-size="14.3" fill="#000" font-weight="bold" textLength="28" lengthAdjust="spacingAndGlyphs">995</text>
<text x="264.4" y="24.7" font-size="12.4" fill="#000" textLength="24.4" lengthAdjust="spacingAndGlyphs">高値</text>
<text x="293" y="24" font-size="14.3" fill="#ff0000" font-weight="bold" textLength="41" lengthAdjust="spacingAndGlyphs">1,257</text>
<text x="357" y="24.7" font-size="12.4" fill="#000" textLength="24.4" lengthAdjust="spacingAndGlyphs">安値</text>
<text x="385.5" y="24" font-size="14.3" fill="#006400" font-weight="bold" textLength="28" lengthAdjust="spacingAndGlyphs">918</text>
<text x="448.2" y="24.7" font-size="12.4" fill="#000" textLength="24.4" lengthAdjust="spacingAndGlyphs">終値</text>
<text x="477" y="24" font-size="14.3" fill="#000" font-weight="bold" textLength="42.5" lengthAdjust="spacingAndGlyphs">1,146</text>
</svg>
</body></html>
